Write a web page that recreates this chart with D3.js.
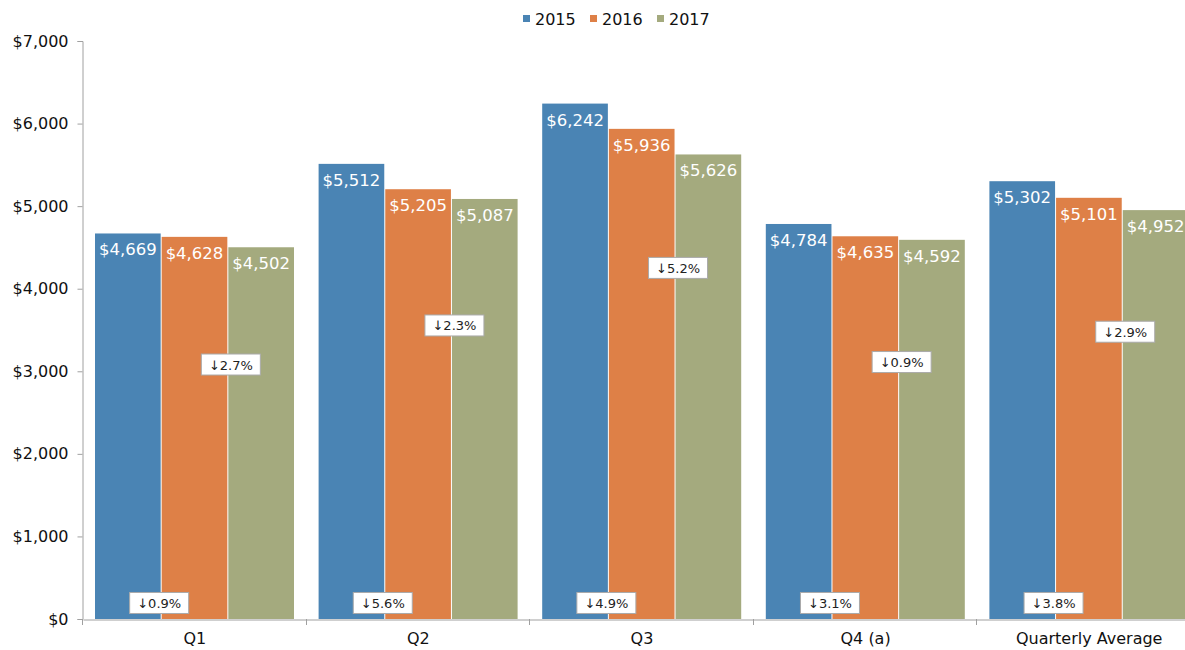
<!DOCTYPE html>
<html>
<head>
<meta charset="utf-8">
<script src="https://cdn.jsdelivr.net/npm/d3@7"></script>
<style>
  html, body { margin: 0; padding: 0; background: #fff; }
  svg { display: block; font-family: "DejaVu Sans", sans-serif; }
</style>
</head>
<body>
<svg id="chart" width="1185" height="650"></svg>
<script>
// Quarterly values by year
const categories = ["Q1", "Q2", "Q3", "Q4 (a)", "Quarterly Average"];
const years = ["2015", "2016", "2017"];
const values2015 = [4669, 5512, 6242, 4784, 5302];
const values2016 = [4628, 5205, 5936, 4635, 5101];
const values2017 = [4502, 5087, 5626, 4592, 4952];
const yTicks = [0, 1000, 2000, 3000, 4000, 5000, 6000, 7000];
// Vertical anchor (in $) of the 2016→2017 change callouts
const callout1617At = [3082, 3555, 4252, 3112, 3479];
const callout1516At = 194;

const colors = { "2015": "#4a84b4", "2016": "#de8047", "2017": "#a4aa7e" };
const series = { "2015": values2015, "2016": values2016, "2017": values2017 };

const svg = d3.select("#chart");
const plotLeft = 83, plotBottom = 619, plotTop = 41;
const groupW = 223.6;

const x0 = d3.scaleBand().domain(categories).range([plotLeft, plotLeft + groupW * categories.length]);
const x1 = d3.scaleBand().domain(years).range([12, 212]);
const y = d3.scaleLinear().domain([0, 7000]).range([plotBottom, plotTop]);

const fmt = d3.format("$,");
const pct = (a, b) => (b < a ? "\u2193" : "\u2191") + Math.abs((b - a) / a * 100).toFixed(1) + "%";

// Y axis
const yAxis = svg.append("g")
  .attr("transform", `translate(${plotLeft - 0.5},0)`)
  .call(d3.axisLeft(y).tickValues(yTicks).tickFormat(d3.format("$,")).tickSize(5).tickPadding(9));
yAxis.select(".domain").attr("stroke", "#a0a0a0");
yAxis.selectAll(".tick line").attr("stroke", "#a0a0a0");
yAxis.selectAll(".tick text").attr("font-size", 16).attr("fill", "#111")
  .attr("font-family", "DejaVu Sans, sans-serif");

// Bars
const groups = svg.append("g").selectAll("g")
  .data(categories)
  .join("g")
  .attr("transform", d => `translate(${x0(d)},0)`);

years.forEach(yr => {
  groups.append("rect")
    .attr("x", x1(yr))
    .attr("y", (d, i) => y(series[yr][i]))
    .attr("width", x1.bandwidth() - 1)
    .attr("height", (d, i) => plotBottom - y(series[yr][i]))
    .attr("fill", colors[yr]);
  groups.append("text")
    .attr("x", x1(yr) + (x1.bandwidth() - 1) / 2)
    .attr("y", (d, i) => y(series[yr][i]) + 22)
    .attr("text-anchor", "middle")
    .attr("font-size", 16.5)
    .attr("fill", "#fff")
    .text((d, i) => fmt(series[yr][i]));
});

// X axis
const xAxis = svg.append("g")
  .attr("transform", `translate(0,${plotBottom + 0.5})`)
  .call(d3.axisBottom(x0).tickSize(0).tickPadding(13));
xAxis.select(".domain").attr("stroke", "#a0a0a0");
xAxis.selectAll(".tick text").attr("font-size", 16).attr("fill", "#111")
  .attr("font-family", "DejaVu Sans, sans-serif");
// boundary ticks between categories
const bounds = categories.map(c => x0(c)).concat([x0(categories[categories.length - 1]) + x0.bandwidth()]);
svg.append("g").selectAll("line")
  .data(bounds)
  .join("line")
  .attr("x1", d => Math.round(d) - 0.5).attr("x2", d => Math.round(d) - 0.5)
  .attr("y1", plotBottom).attr("y2", plotBottom + 6)
  .attr("stroke", "#a0a0a0");

// Change callouts
function callout(cx, cy, label) {
  const g = svg.append("g").attr("transform", `translate(${cx},${cy})`);
  g.append("rect")
    .attr("x", -29.5).attr("y", -10.5).attr("width", 59).attr("height", 21)
    .attr("fill", "#fff").attr("stroke", "#aaa").attr("stroke-width", 1);
  g.append("text")
    .attr("text-anchor", "middle").attr("y", 5)
    .attr("font-size", 13).attr("fill", "#222")
    .text(label);
}

categories.forEach((c, i) => {
  const b1 = x0(c) + x1("2016") - 0.5;
  const b2 = x0(c) + x1("2017") - 0.5;
  callout(b1 - 2, y(callout1516At), pct(values2015[i], values2016[i]));
  callout(b2 + 3, y(callout1617At[i]), pct(values2016[i], values2017[i]));
});

// Legend
const legend = svg.append("g").attr("transform", "translate(523,0)");
years.forEach((yr, i) => {
  const g = legend.append("g").attr("transform", `translate(${i * 67},0)`);
  g.append("rect").attr("x", 0).attr("y", 15).attr("width", 7).attr("height", 7).attr("fill", colors[yr]);
  g.append("text").attr("x", 12).attr("y", 24.5).attr("font-size", 16).attr("fill", "#111").text(yr);
});
</script>
</body>
</html>
